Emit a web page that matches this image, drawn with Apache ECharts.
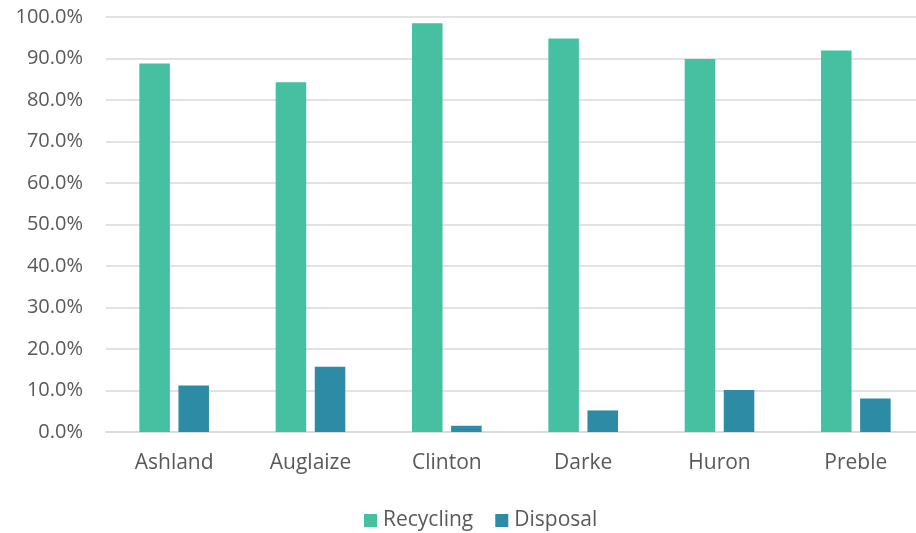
<!DOCTYPE html>
<html>
<head>
<meta charset="utf-8">
<script src="https://cdn.jsdelivr.net/npm/echarts@6/dist/echarts.min.js"></script>
<style>
html,body{margin:0;padding:0;background:#fff;overflow:hidden;width:916px;height:533px;}
#chart{width:924px;height:533px;}
</style>
</head>
<body>
<div id="chart"></div>
<script>
var categories = ['Ashland', 'Auglaize', 'Clinton', 'Darke', 'Huron', 'Preble'];
var recycling = [88.8, 84.3, 98.5, 94.8, 89.9, 91.9];
var disposal = [11.2, 15.7, 1.5, 5.2, 10.1, 8.1];
var seriesNames = ['Recycling', 'Disposal'];
var yTicks = { min: 0, max: 100, interval: 10 };

var FONT = '"Open Sans", sans-serif';
var TEXT = '#595959';

var chart = echarts.init(document.getElementById('chart'), null, { renderer: 'canvas' });
chart.setOption({
  animation: false,
  backgroundColor: '#ffffff',
  grid: { left: 106, right: 0, top: 17, height: 415, containLabel: false },
  legend: {
    data: seriesNames,
    top: 505,
    left: 359,
    itemWidth: 13,
    itemHeight: 13,
    itemGap: 22,
    icon: 'rect',
    textStyle: { fontFamily: FONT, fontSize: 21, color: TEXT, padding: [0, 0, 0, 1] }
  },
  xAxis: {
    type: 'category',
    data: categories,
    axisLine: { show: true, lineStyle: { color: '#D9D9D9', width: 1.5 } },
    axisTick: { show: false },
    axisLabel: { fontFamily: FONT, fontSize: 21, color: TEXT, margin: 21 }
  },
  yAxis: {
    type: 'value',
    min: yTicks.min,
    max: yTicks.max,
    interval: yTicks.interval,
    axisLine: { show: false },
    axisTick: { show: false },
    splitLine: { lineStyle: { color: '#D9D9D9', width: 1.5 } },
    axisLabel: {
      fontFamily: FONT, fontSize: 20, color: TEXT, margin: 23,
      formatter: function (v) { return v.toFixed(1) + '%'; }
    }
  },
  series: [
    {
      name: seriesNames[0], type: 'bar', data: recycling,
      barWidth: '22.4%', barGap: '28%',
      itemStyle: { color: '#45C1A1' }
    },
    {
      name: seriesNames[1], type: 'bar', data: disposal,
      barWidth: '22.4%', barGap: '28%',
      itemStyle: { color: '#2E8BA6' }
    }
  ]
});
</script>
</body>
</html>
